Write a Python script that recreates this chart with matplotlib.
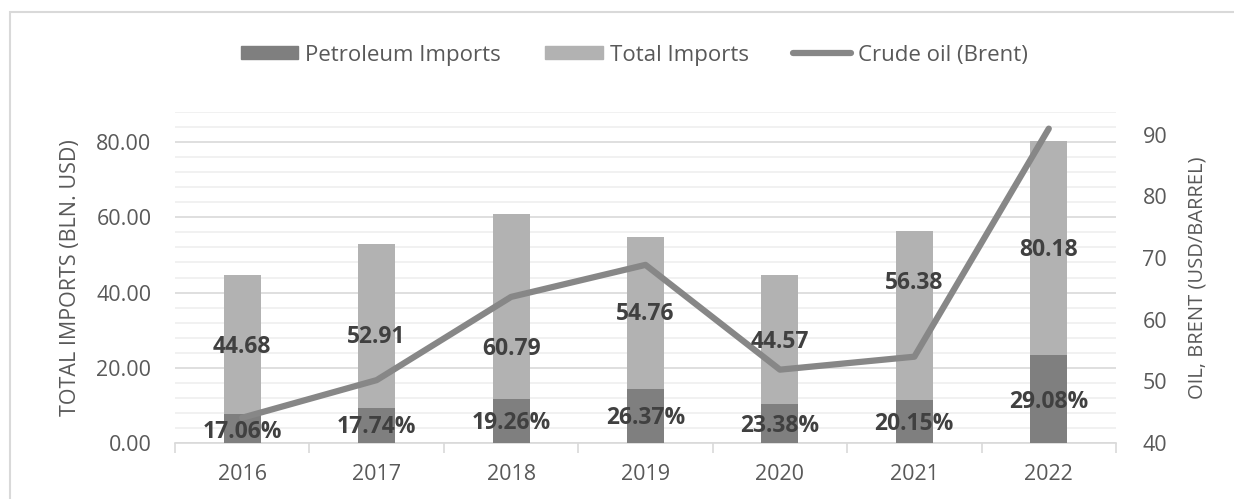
import matplotlib.pyplot as plt
from matplotlib.lines import Line2D
from matplotlib.patches import Patch, Rectangle
import numpy as np

# Данные
years = ["2016", "2017", "2018", "2019", "2020", "2021", "2022"]
total_imports = [44.68, 52.91, 60.79, 54.76, 44.57, 56.38, 80.18]
petroleum_share = [17.06, 17.74, 19.26, 26.37, 23.38, 20.15, 29.08]
brent = [44.1, 50.2, 63.7, 68.9, 51.9, 54.0, 91.0]

# Высота подписей (в единицах левой оси), как расставлено на исходнике
total_label_y = [25.5, 28.2, 25.0, 34.3, 26.9, 42.5, 51.3]
share_label_y = [2.9, 4.3, 5.3, 6.6, 4.5, 5.1, 10.9]

petroleum_imports = [t * s / 100 for t, s in zip(total_imports, petroleum_share)]

plt.rcParams['font.family'] = ['Open Sans', 'DejaVu Sans']

DARK = "#7f7f7f"
LIGHT = "#b2b2b2"
LINE = "#878787"
TXT = "#595959"
LBL = "#404040"
FS = 15.5

fig = plt.figure(figsize=(12.34, 4.99), dpi=100)
fig.patches.append(Rectangle((10 / 1234, -0.1), 1.2, 1.1 - 12 / 499,
                             transform=fig.transFigure, fill=False,
                             edgecolor="#d9d9d9", linewidth=1.5))

ax = fig.add_axes([175 / 1234, 1 - 443 / 499, (1116 - 175) / 1234, (443 - 112) / 499])
ax2 = ax.twinx()

x = np.arange(len(years))
w = 0.275
ax.bar(x, total_imports, w, color=LIGHT, zorder=2)
ax.bar(x, petroleum_imports, w, color=DARK, zorder=3)

ax.set_xlim(-0.5, len(years) - 0.5)
ax.set_ylim(0, 88)
ax.set_yticks(np.arange(0, 81, 20))
ax.set_yticks(np.arange(0, 89, 4), minor=True)
ax.set_yticklabels([f"{v:.2f}" for v in range(0, 81, 20)])
ax.grid(axis="y", which="major", color="#d9d9d9", linewidth=1.2, zorder=0)
ax.grid(axis="y", which="minor", color="#efefef", linewidth=1.2, zorder=0)
ax.set_axisbelow(True)

ax.set_xticks(x)
ax.set_xticklabels(years)
ax.set_xticks(np.arange(-0.5, len(years)), minor=True)
ax.tick_params(axis="x", which="major", length=0, pad=15, labelsize=FS, colors=TXT)
ax.tick_params(axis="x", which="minor", length=7, width=1.2, color="#d9d9d9")
ax.tick_params(axis="y", which="both", length=0, labelsize=FS, colors=TXT, pad=17)
for s in ["top", "left", "right"]:
    ax.spines[s].set_visible(False)
ax.spines["bottom"].set_color("#d9d9d9")
ax.spines["bottom"].set_linewidth(1.2)
ax.set_ylabel("TOTAL IMPORTS (BLN. USD)", fontsize=15.5, color=TXT, labelpad=11)

ax2.plot(x, brent, color=LINE, linewidth=4.5, solid_capstyle="round", zorder=4)
ax2.set_ylim(40, 93.7)
ax2.set_yticks(np.arange(40, 91, 10))
ax2.tick_params(axis="y", length=0, labelsize=FS, colors=TXT, pad=19)
for s in ["top", "left", "right", "bottom"]:
    ax2.spines[s].set_visible(False)
ax2.set_ylabel("OIL, BRENT (USD/BARREL)", fontsize=14.5, color=TXT, labelpad=15)

for i in range(len(years)):
    ax2.text(x[i], total_label_y[i], f"{total_imports[i]:.2f}", transform=ax.transData,
             ha="center", va="center", fontsize=16.5, fontweight="bold", color=LBL, zorder=6)
    ax2.text(x[i], share_label_y[i], f"{petroleum_share[i]:.2f}%", transform=ax.transData,
             ha="center", va="center", fontsize=16.5, fontweight="bold", color=LBL, zorder=6)

handles = [Patch(color=DARK), Patch(color=LIGHT),
           Line2D([0], [0], color=LINE, linewidth=4.5, solid_capstyle="round")]
fig.legend(handles, ["Petroleum Imports", "Total Imports", "Crude oil (Brent)"],
           loc="center", bbox_to_anchor=(634 / 1234, 1 - 55 / 499), ncol=3, frameon=False,
           fontsize=16, labelcolor=TXT, handlelength=2.6, handleheight=0.55,
           handletextpad=0.3, columnspacing=2.0)

plt.savefig("out.png", dpi=100)
